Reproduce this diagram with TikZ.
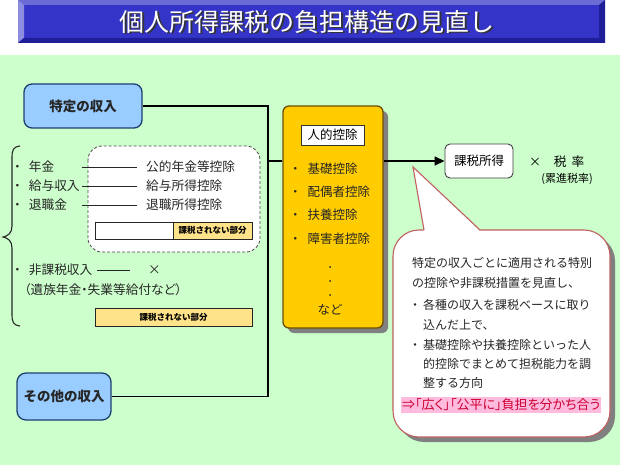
\documentclass[tikz,border=0pt]{standalone}
\usepackage{fontspec}
\setmainfont{Noto Sans CJK JP}
\newfontfamily\jpp[RawFeature=+palt]{Noto Sans CJK JP}
\usetikzlibrary{arrows.meta}
\definecolor{bggreen}{HTML}{CCFFCC}
\definecolor{barmain}{HTML}{3434C8}
\definecolor{bartop}{HTML}{6B6BD6}
\definecolor{barleft}{HTML}{8C8CE0}
\definecolor{barbot}{HTML}{1E1E99}
\definecolor{lblue}{HTML}{99CCFF}
\definecolor{dblue}{HTML}{1F3F6F}
\definecolor{yel}{HTML}{FFCC00}
\definecolor{yelborder}{HTML}{6E4E00}
\definecolor{lyel}{HTML}{FFE38A}
\definecolor{shadowgray}{HTML}{808080}
\definecolor{callborder}{HTML}{C06060}
\definecolor{pinkhl}{HTML}{FFBBDD}
\definecolor{redtxt}{HTML}{CC0033}
\tikzset{
  txt/.style={inner sep=0pt, anchor=west, font=\fontsize{12.7}{14}\selectfont, text=black!85},
  ctxt/.style={inner sep=0pt, anchor=west, font=\fontsize{12}{14}\selectfont, text=black!85},
  ytxt/.style={inner sep=0pt, anchor=west, font=\fontsize{12.5}{14}\selectfont, text=black!85},
  bluebox/.style={draw=dblue, line width=1.3pt, fill=lblue, rounded corners=8pt,
    font=\bfseries\fontsize{13.5}{15}\selectfont, text=black!85},
  small/.style={inner sep=0pt, font=\bfseries\fontsize{8.5}{10}\selectfont, text=black},
  conn/.style={line width=1.2pt, black},
  thinconn/.style={line width=0.9pt, black!85},
}
\begin{document}
\begin{tikzpicture}[x=1pt,y=-1pt]
\useasboundingbox (0,0) rectangle (620,465);
\fill[white] (0,0) rectangle (620,465);
\fill[bggreen] (0,55) rectangle (620,465);
% title bar
\fill[barmain] (18,0) rectangle (605,43);
\fill[bartop] (18,0) -- (605,0) -- (599,5) -- (24,5) -- cycle;
\fill[barleft] (18,0) -- (24,5) -- (24,38) -- (18,43) -- cycle;
\fill[barbot] (18,43) -- (24,38) -- (599,38) -- (605,43) -- cycle;
\fill[barbot] (605,0) -- (599,5) -- (599,38) -- (605,43) -- cycle;
\node[text=black!80, font=\fontsize{25}{28}\selectfont] (titleshadow) at (308.5,23.5) {個人所得課税の負担構造の見直し};
\node[text=white, font=\fontsize{25}{28}\selectfont] (title) at (307,22) {個人所得課税の負担構造の見直し};

% left boxes
\node[bluebox, minimum width=118pt, minimum height=44pt] (tok) at (83,106) {特定の収入};
\node[bluebox, minimum width=94pt, minimum height=47pt, rounded corners=9pt] (other) at (64,396.5) {その他の収入};

% brace
\draw[line width=1.1pt, black!85] (20,146) .. controls (13,147) and (12,150) .. (12,158) -- (12,226)
  .. controls (12,233) and (8,236) .. (3,237) .. controls (8,238) and (12,241) .. (12,248)
  -- (12,314) .. controls (12,322) and (13,325) .. (20,326);

% dashed box
\draw[densely dashed, black!70, line width=0.8pt, fill=white, rounded corners=14pt] (88,146) rectangle (260,252);

% items
\node[txt] (b1) at (11,167) {・\hspace{5pt}年金};
\node[txt] (b2) at (11,186) {・\hspace{5pt}給与収入};
\node[txt] (b3) at (11,205) {・\hspace{5pt}退職金};
\node[txt] (k1) at (146,167) {公的年金等控除};
\node[txt] (k2) at (146,186) {給与所得控除};
\node[txt] (k3) at (146,205) {退職所得控除};
\coordinate (l1) at (82,167);
\coordinate (l2) at (82,186);
\coordinate (l3) at (82,205);
\draw[thinconn, shorten >=9pt] (l1) -- (k1.west);
\draw[thinconn, shorten >=9pt] (l2) -- (k2.west);
\draw[thinconn, shorten >=9pt] (l3) -- (k3.west);

% bar in dashed box
\draw[black!85, line width=0.8pt, fill=white] (95,222) rectangle (173,239);
\draw[black!85, line width=0.8pt, fill=lyel] (173,222) rectangle (252,239);
\node[small] (bar1) at (212.5,230.5) {課税されない部分};

% non-taxable
\node[txt] (b4) at (11,270) {・\hspace{5pt}非課税収入};
\node[txt] (x1) at (148,270) {×};
\coordinate (l4) at (97,270);
\draw[thinconn] (l4) -- (130,270);
\node[txt, anchor=west] (b5) at (24,290) {\jpp（遺族年金・失業等給付など）};
\draw[black!85, line width=0.8pt, fill=lyel] (95,308) rectangle (252,326);
\node[small] (bar2) at (173.5,317) {課税されない部分};

% yellow box
\fill[shadowgray, rounded corners=6pt] (288,111) rectangle (388,333);
\node[draw=yelborder, line width=1.3pt, fill=yel, rounded corners=6pt, minimum width=100pt, minimum height=222pt] (yb) at (333,217) {};
\node[draw=black!80, line width=0.8pt, fill=white, minimum width=63pt, minimum height=20pt, inner sep=0pt,
  font=\fontsize{12.5}{14}\selectfont] (jin) at (332.5,135) {人的控除};
\node[ytxt] (y1) at (289,169) {・\hspace{6pt}基礎控除};
\node[ytxt] (y2) at (289,192) {・\hspace{6pt}配偶者控除};
\node[ytxt] (y3) at (289,215) {・\hspace{6pt}扶養控除};
\node[ytxt] (y4) at (289,239) {・\hspace{6pt}障害者控除};
\fill[black!85] (330,267) circle (1pt);
\fill[black!85] (330,281) circle (1pt);
\fill[black!85] (330,295) circle (1pt);
\node[inner sep=0pt, font=\fontsize{12.5}{14}\selectfont, text=black!85] (nado) at (330,310) {など};

% connectors
\coordinate (j) at (268,161);
\draw[conn] (tok.east) -| (j) -- (j -| yb.west);
\draw[conn] (other.east) -| (j);

% taxable income
\node[draw=black!75, line width=0.9pt, fill=white, rounded corners=5pt, minimum width=68pt, minimum height=34pt,
  inner sep=0pt, font=\fontsize{12.5}{14}\selectfont] (kz) at (479,161) {課税所得};
\draw[line width=1.5pt, -{Triangle[length=10pt,width=9pt]}] (yb.east |- kz.west) -- (kz.west);
\node[inner sep=0pt, font=\fontsize{12}{14}\selectfont] (times) at (535,162) {×};
\node[inner sep=0pt, font=\fontsize{12.7}{14}\selectfont] (zei) at (569,162) {税\hspace{5pt}率};
\node[inner sep=0pt, font=\fontsize{11}{13}\selectfont] (ruishin) at (567,179) {(累進税率)};

% callout
\fill[shadowgray, rounded corners=26pt] (398,235) rectangle (615,442);
\draw[callborder, line width=1.1pt, fill=white, rounded corners=26pt] (393,230) rectangle (610,437);
\fill[white] (424,231) -- (413,167) -- (480,231) -- cycle;
\coordinate (tip) at (413,167);
\coordinate (pl) at (424,230);
\coordinate (pr) at (480,230);
\draw[callborder, line width=1.1pt] (pl) -- (tip) -- (pr);

\node[ctxt] (c1) at (412,263) {特定の収入ごとに適用される特別};
\node[ctxt] (c2) at (412,283) {の控除や非課税措置を見直し、};
\node[ctxt] (c3) at (409,305) {・\hspace{2pt}各種の収入を課税ベースに取り};
\node[ctxt] (c4) at (423,325) {込んだ上で、};
\node[ctxt] (c5) at (409,345) {・\hspace{2pt}基礎控除や扶養控除といった人};
\node[ctxt] (c6) at (423,364) {的控除でまとめて担税能力を調};
\node[ctxt] (c7) at (423,383) {整する方向};
\fill[pinkhl] (401,397) rectangle (601,413);
\node[ctxt, text=redtxt, font=\jpp\fontsize{13}{15}\selectfont] (c8) at (402,405) {⇒「広く」「公平に」負担を分かち合う};
\end{tikzpicture}
\end{document}
